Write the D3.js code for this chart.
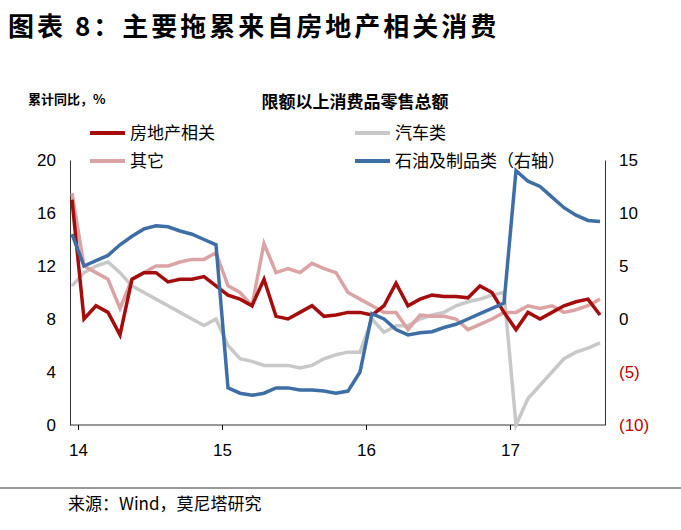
<!DOCTYPE html>
<html><head><meta charset="utf-8">
<script src="https://cdn.jsdelivr.net/npm/d3@7"></script>
<style>body{margin:0;background:#fff;font-family:"Noto Sans CJK SC",sans-serif;}</style>
</head><body><div id="chart"></div>
<script>
// monthly cumulative yoy, Jan 2014 .. Sep 2017
const realEstate = [17,8,9,8.5,6.8,11,11.5,11.5,10.8,11,11,11.2,10.5,9.8,9.5,9,11,8.2,8,8.5,9,8.2,8.3,8.5,8.5,8.3,9,10.7,9,9.5,9.8,9.7,9.7,9.6,10.5,10,8.5,7.2,8.5,8,8.5,9,9.3,9.5,8.3];
const other = [17.5,12,11.5,11,8.8,11,11.5,12,12,12.3,12.5,12.5,13,10.5,10,9,13.7,11.5,11.8,11.5,12.2,11.8,11.5,10,9.5,9,8.5,8.5,7.2,8.3,8.2,8.2,8,7.2,7.6,8,8.5,8.5,9,8.8,9,8.5,8.7,9,9.5];
const auto = [10.5,11.5,12,12.3,11.5,10.5,10,9.5,9,8.5,8,7.5,8,6,5,4.8,4.5,4.5,4.5,4.3,4.5,5,5.3,5.5,5.5,8,7,7.5,7.5,8,8.3,8.5,9,9.3,9.5,9.8,10,0,2,3,4,5,5.5,5.8,6.2];
const oil = [8,5,5.5,6,7,7.8,8.5,8.8,8.7,8.3,8,7.5,7,-6.5,-7,-7.2,-7,-6.5,-6.5,-6.7,-6.7,-6.8,-7,-6.8,-5,0.5,0,-1,-1.5,-1.3,-1.2,-0.8,-0.5,0,0.5,1,1.5,14,13,12.5,11.5,10.5,9.8,9.3,9.2];
const yearLabels = ["14","15","16","17"];
const leftTicks = [0,4,8,12,16,20];
const rightTicks = [-10,-5,0,5,10,15];

const svg = d3.select("#chart").append("svg").attr("width",681).attr("height",530);
const x = d3.scaleLinear().domain([0,44]).range([72,600]);
const yL = d3.scaleLinear().domain([0,20]).range([425,160]);
const yR = d3.scaleLinear().domain([-10,15]).range([425,160]);

svg.append("text").attr("x",8).attr("y",36).attr("font-size",26).attr("letter-spacing",3).attr("font-weight","bold").text("图表 8：主要拖累来自房地产相关消费");
svg.append("line").attr("x1",0).attr("x2",681).attr("y1",488).attr("y2",488).attr("stroke","#333");
svg.append("text").attr("x",68).attr("y",510).attr("font-size",17).text("来源：Wind，莫尼塔研究");

svg.append("text").attr("x",28).attr("y",104).attr("font-size",13).attr("font-weight","bold").text("累计同比，%");
svg.append("text").attr("x",355).attr("y",108).attr("text-anchor","middle").attr("font-size",17).attr("font-weight","bold").text("限额以上消费品零售总额");

// axes
svg.append("g").attr("transform","translate(70,0)").call(d3.axisLeft(yL).tickValues(leftTicks).tickSize(0).tickPadding(14))
  .call(g=>g.select(".domain").attr("stroke","#333")).attr("font-size",17).attr("font-family","Liberation Sans");
svg.append("g").attr("transform","translate(605,0)").call(d3.axisRight(yR).tickValues(rightTicks).tickSize(0).tickPadding(14)
  .tickFormat(d=>d<0?"("+(-d)+")":d))
  .call(g=>g.select(".domain").attr("stroke","#333"))
  .call(g=>g.selectAll("text").attr("fill",d=>d<0?"#c00000":"#000"))
  .attr("font-size",17).attr("font-family","Liberation Sans");
svg.append("g").attr("transform","translate(0,425)").call(d3.axisBottom(x).tickValues([0.5,12.5,24.5,36.5]).tickSize(5).tickPadding(14)
  .tickFormat((d,i)=>yearLabels[i]))
  .call(g=>g.select(".domain").attr("d","M70,0H605").attr("stroke","#333"))
  .attr("font-size",17).attr("font-family","Liberation Sans");

const series = [
  {v:auto, s:yL, c:"#c8c8c8"},
  {v:other, s:yL, c:"#dba3a3"},
  {v:realEstate, s:yL, c:"#a50d0d"},
  {v:oil, s:yR, c:"#3e6ea6"}
];
series.forEach(o=>{
  svg.append("path").attr("d",d3.line().x((d,i)=>x(i)).y(d=>o.s(d))(o.v))
    .attr("fill","none").attr("stroke",o.c).attr("stroke-width",3.5);
});

const legend = [
  {t:"房地产相关",c:"#a50d0d",x:90,y:133},
  {t:"汽车类",c:"#c8c8c8",x:355,y:133},
  {t:"其它",c:"#dba3a3",x:90,y:161},
  {t:"石油及制品类（右轴）",c:"#3e6ea6",x:355,y:161}
];
legend.forEach(l=>{
  svg.append("line").attr("x1",l.x).attr("x2",l.x+35).attr("y1",l.y).attr("y2",l.y).attr("stroke",l.c).attr("stroke-width",4);
  svg.append("text").attr("x",l.x+40).attr("y",l.y+6).attr("font-size",17).text(l.t);
});
</script></body></html>
